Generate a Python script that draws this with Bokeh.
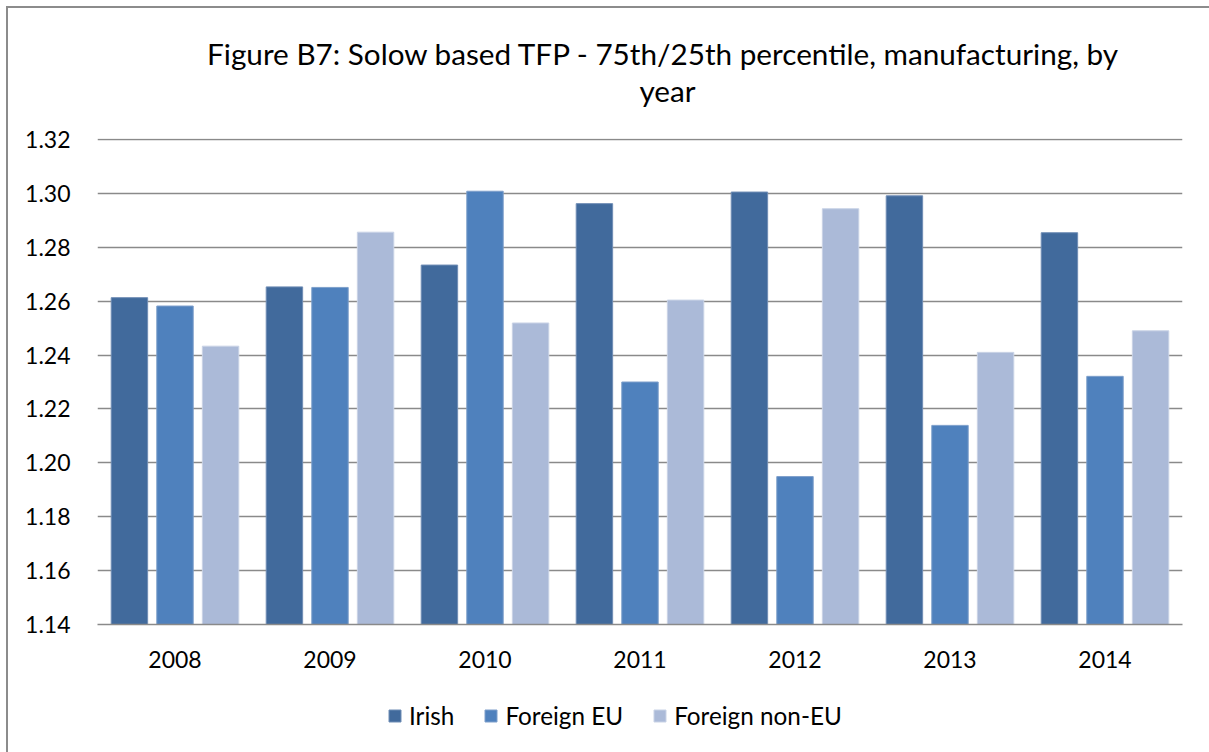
from bokeh.plotting import figure
from bokeh.layouts import column
from bokeh.models import (FactorRange, Range1d, FixedTicker, NumeralTickFormatter,
                          Legend, LegendItem, Label, ColumnDataSource)
from bokeh.transform import dodge
from bokeh.embed import file_html
from bokeh.resources import INLINE

years = ["2008", "2009", "2010", "2011", "2012", "2013", "2014"]
irish = [1.2613, 1.2653, 1.2734, 1.2962, 1.3005, 1.2991, 1.2854]
foreign_eu = [1.2582, 1.2651, 1.3008, 1.2300, 1.1949, 1.2139, 1.2321]
foreign_non_eu = [1.2433, 1.2856, 1.2519, 1.2604, 1.2943, 1.2410, 1.2490]
y_ticks = [1.14, 1.16, 1.18, 1.20, 1.22, 1.24, 1.26, 1.28, 1.30, 1.32]
series_names = ["Irish", "Foreign EU", "Foreign non-EU"]
colors = ["#416A9C", "#4F81BD", "#ABBAD8"]
edge_colors = ["#6F8DB5", "#7E9FCB", "#C9D3E6"]
title_lines = ["Figure B7: Solow  based TFP - 75th/25th percentile, manufacturing, by",
               "year"]

FONT = "Lato"
W = 1201
FRAME_L, FRAME_R = 97, 1182   # page x of the plot frame (frames are aligned in the column)

source = ColumnDataSource(data=dict(year=years, irish=irish,
                                    feu=foreign_eu, fneu=foreign_non_eu))
cols = ["irish", "feu", "fneu"]
bar_w = 0.235
step = 0.294

# ---------- header (title) ----------
header = figure(width=W, height=110, output_backend="svg", toolbar_location=None,
                x_range=Range1d(FRAME_L, FRAME_R), y_range=Range1d(0, 110),
                x_axis_type=None, y_axis_type=None, min_border=0)
header.outline_line_color = None
header.grid.grid_line_color = None
for txt, yy in zip(title_lines, [65, 28]):
    header.add_layout(Label(x=667, y=yy, text=txt, text_align="center",
                            text_baseline="middle", text_font=FONT,
                            text_font_size="29.7px", text_color="#000000"))

# ---------- main chart ----------
px_unit = (y_ticks[-1] - y_ticks[0]) / 485.0
p = figure(width=W, height=574, output_backend="svg", toolbar_location=None,
           x_range=FactorRange(factors=years, range_padding=0),
           y_range=Range1d(y_ticks[0], y_ticks[-1] + px_unit),
           min_border_left=89, min_border_right=27,
           min_border_top=20, min_border_bottom=68)

for i, (col, c, ec) in enumerate(zip(cols, colors, edge_colors)):
    p.vbar(x=dodge("year", (i - 1) * step, range=p.x_range), top=col,
           bottom=y_ticks[0], width=bar_w, source=source,
           fill_color=c, line_color=ec, line_width=1)

p.outline_line_color = None
p.background_fill_color = "white"
p.border_fill_color = "white"
p.xgrid.grid_line_color = None
p.ygrid.grid_line_color = "#8A8A8A"
p.ygrid.grid_line_width = 1.5
p.yaxis.ticker = FixedTicker(ticks=y_ticks)
p.yaxis.formatter = NumeralTickFormatter(format="0.00")
for ax in (p.xaxis[0], p.yaxis[0]):
    ax.major_tick_line_color = None
    ax.minor_tick_line_color = None
    ax.major_label_text_font = FONT
    ax.major_label_text_font_size = "23px"
    ax.major_label_text_color = "#000000"
p.yaxis.axis_line_color = None
p.yaxis.major_label_standoff = 21
p.xaxis.axis_line_color = "#8A8A8A"
p.xaxis.axis_line_width = 1.5
p.xaxis.major_label_standoff = 20

# ---------- legend strip (same series, kept out of view; only the legend shows) ----------
leg = figure(width=W, height=60, output_backend="svg", toolbar_location=None,
             x_range=FactorRange(factors=years, range_padding=0), y_range=Range1d(100, 101),
             x_axis_type=None, y_axis_type=None, min_border=0)
leg.outline_line_color = None
leg.grid.grid_line_color = None
leg_renderers = []
for i, (col, c, ec) in enumerate(zip(cols, colors, edge_colors)):
    r = leg.vbar(x=dodge("year", (i - 1) * step, range=leg.x_range), top=col,
                 bottom=y_ticks[0], width=bar_w, source=source,
                 fill_color=c, line_color=ec, line_width=1)
    leg_renderers.append(r)
legend = Legend(items=[LegendItem(label=n, renderers=[r]) for n, r in zip(series_names, leg_renderers)],
                orientation="horizontal", location=(387 - FRAME_L, 22),
                glyph_width=15, glyph_height=15, label_standoff=7, spacing=29,
                padding=0, margin=0, border_line_color=None,
                background_fill_alpha=0,
                label_text_font=FONT, label_text_font_size="24.3px",
                label_text_color="#000000")
leg.add_layout(legend, "center")

layout = column(header, p, leg, spacing=0)
layout.margin = (8, 0, 0, 8)
layout.styles = {"box-shadow": "-1px -1px 0 1px #8C8C8C"}

open("out.html", "w").write(file_html(layout, INLINE))
